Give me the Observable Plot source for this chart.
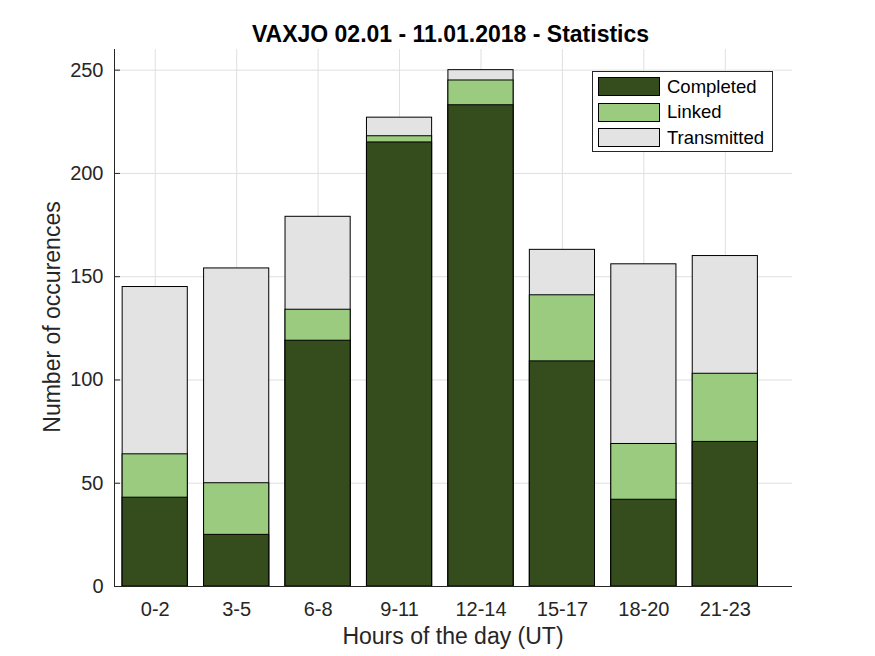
<!DOCTYPE html>
<html>
<head>
<meta charset="utf-8">
<script src="https://cdn.jsdelivr.net/npm/d3@7"></script>
<script src="https://cdn.jsdelivr.net/npm/@observablehq/plot@0.6"></script>
<style>
  html, body { margin: 0; padding: 0; background: #fff; }
  #wrap { position: relative; width: 875px; height: 656px; font-family: "Liberation Sans", Arial, sans-serif; color: #262626; }
  #legend { position: absolute; left: 592px; top: 71px; width: 179px; height: 79px; border: 1px solid #262626; background: #fff; }
  .item { position: absolute; left: 5px; height: 19px; display: flex; align-items: center; }
  .sw { width: 60px; height: 17px; border: 1px solid #000; margin-right: 7px; }
  .lab { font-size: 18.5px; color: #000; white-space: nowrap; }
  .txt { position: absolute; white-space: nowrap; line-height: 23px; font-size: 23px; }
  #title { left: 450.5px; top: 22.5px; transform: translateX(-50%); font-weight: bold; color: #000; }
  #xlab { left: 453px; top: 624.5px; transform: translateX(-50%); }
  #ylab { left: 52px; top: 317px; transform: translate(-50%, -50%) rotate(-90deg); }
</style>
</head>
<body>
<div id="wrap"></div>
<script>
const categories = ["0-2", "3-5", "6-8", "9-11", "12-14", "15-17", "18-20", "21-23"];
const completed = [43, 25, 119, 215, 233, 109, 42, 70];
const linked = [64, 50, 134, 218, 245, 141, 69, 103];
const transmitted = [145, 154, 179, 227, 250, 163, 156, 160];
const yTicks = [0, 50, 100, 150, 200, 250];
const seriesNames = ["Completed", "Linked", "Transmitted"];
const seriesColors = ["#354c1c", "#9acb7f", "#e3e3e3"];
const title = "VAXJO 02.01 - 11.01.2018 - Statistics";
const xLabel = "Hours of the day (UT)";
const yLabel = "Number of occurences";

const idx = categories.map((c, i) => i + 1);
const barHalf = 0.4;
const axisColor = "#262626";

function bars(values, color) {
  return Plot.rectY(values, {
    x1: (d, i) => i + 1 - barHalf,
    x2: (d, i) => i + 1 + barHalf,
    y1: 0,
    y2: d => d,
    fill: color,
    stroke: "#000",
    strokeWidth: 1
  });
}

const chart = Plot.plot({
  width: 875,
  height: 656,
  marginLeft: 114,
  marginRight: 83,
  marginTop: 49,
  marginBottom: 70,
  style: { fontFamily: "'Liberation Sans', Arial, sans-serif", fontSize: "20px", color: axisColor, background: "transparent" },
  x: { type: "linear", domain: [0.5, 8.825] },
  y: { domain: [0, 260] },
  marks: [
    Plot.gridX(idx, { stroke: "#dfdfdf", strokeOpacity: 1 }),
    Plot.gridY(yTicks, { stroke: "#dfdfdf", strokeOpacity: 1 }),
    bars(transmitted, seriesColors[2]),
    bars(linked, seriesColors[1]),
    bars(completed, seriesColors[0]),
    Plot.tickY(yTicks, { y: d => d, stroke: axisColor, insetRight: 875 - 114 - 83 - 6 }),
    Plot.ruleX([0.5], { stroke: axisColor }),
    Plot.ruleY([0], { stroke: axisColor }),
    Plot.axisX(idx, { tickSize: 0, tickPadding: 15, label: null, tickFormat: i => categories[i - 1], fontSize: 20, fill: axisColor }),
    Plot.axisY(yTicks, { tickSize: 0, tickPadding: 11, label: null, fontSize: 20, fill: axisColor })
  ]
});

const wrap = document.getElementById("wrap");
chart.style.position = "absolute";
chart.style.left = "0";
chart.style.top = "0";
wrap.appendChild(chart);

function addText(id, text) {
  const el = document.createElement("div");
  el.id = id;
  el.className = "txt";
  el.textContent = text;
  wrap.appendChild(el);
}
addText("title", title);
addText("xlab", xLabel);
addText("ylab", yLabel);

const legend = document.createElement("div");
legend.id = "legend";
const tops = [5, 30.5, 56];
seriesNames.forEach((name, i) => {
  const item = document.createElement("div");
  item.className = "item";
  item.style.top = tops[i] + "px";
  const sw = document.createElement("div");
  sw.className = "sw";
  sw.style.background = seriesColors[i];
  const lab = document.createElement("span");
  lab.className = "lab";
  lab.textContent = name;
  item.appendChild(sw);
  item.appendChild(lab);
  legend.appendChild(item);
});
wrap.appendChild(legend);
</script>
</body>
</html>
